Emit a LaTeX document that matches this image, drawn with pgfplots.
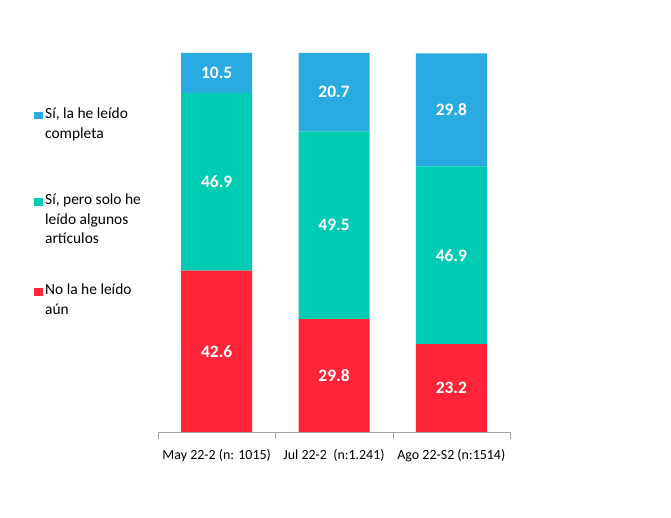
\documentclass[border=0pt]{standalone}
\usepackage{fontspec}
\setmainfont{Carlito}
\usepackage{pgfplots}
\pgfplotsset{compat=1.18}
\definecolor{siComp}{HTML}{29ABE2}
\definecolor{siAlg}{HTML}{00CCB4}
\definecolor{noLei}{HTML}{FF2437}
\begin{document}
\begin{tikzpicture}[x=1bp,y=1bp]
\path[use as bounding box] (0,0) rectangle (671,518);
\begin{axis}[
  at={(158bp,86bp)}, anchor=south west,
  scale only axis, width=352bp, height=379bp,
  ybar stacked, bar width=71bp,
  xmin=-0.5, xmax=2.5, ymin=0, ymax=100,
  axis x line*=bottom, axis y line=none,
  xtick={0,1,2},
  xticklabels={May 22-2 (n: 1015), Jul 22-2\ \ (n:1.241), Ago 22-S2 (n:1514)},
  major tick length=0pt,
  extra x ticks={-0.5,0.5,1.5,2.5}, extra x tick labels={},
  extra x tick style={major tick length=7bp, tick align=outside, tick style={gray!70}},
  x axis line style={gray!70, -},
  xticklabel style={font=\fontsize{14}{16}\selectfont, yshift=-14bp},
  /pgf/number format/assume math mode=true,
  nodes near coords,
  every node near coord/.append style={font=\fontsize{17.5}{20}\selectfont\bfseries,
    text=white, anchor=center},
]
\addplot[fill=noLei, draw=none] coordinates {(0,42.6) (1,29.8) (2,23.2)};
\addplot[fill=siAlg, draw=none] coordinates {(0,46.9) (1,49.5) (2,46.9)};
\addplot[fill=siComp, draw=none] coordinates {(0,10.5) (1,20.7) (2,29.8)};
\end{axis}
\begin{scope}[every node/.style={anchor=north west, inner sep=0pt, align=left,
    font=\fontsize{15.5}{19.5}\selectfont}]
\fill[siComp] (34,399) rectangle (43,406);
\node at (45,410) {Sí, la he leído\\completa};
\fill[siAlg] (34,312) rectangle (43,320);
\node at (45,324) {Sí, pero solo he\\leído algunos\\artículos};
\fill[noLei] (34,222) rectangle (43,230);
\node at (45,234) {No la he leído\\aún};
\end{scope}
\end{tikzpicture}
\end{document}
